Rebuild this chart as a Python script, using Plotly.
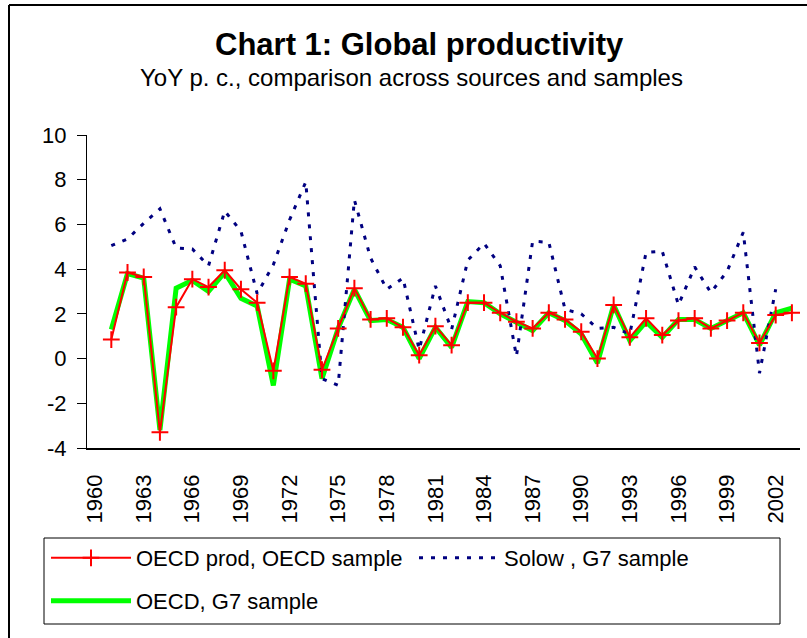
import plotly.graph_objects as go

# ---------------- data ----------------
YEARS = [1960, 1961, 1962, 1963, 1964, 1965, 1966, 1967, 1968, 1969,
         1970, 1971, 1972, 1973, 1974, 1975, 1976, 1977, 1978, 1979,
         1980, 1981, 1982, 1983, 1984, 1985, 1986, 1987, 1988, 1989,
         1990, 1991, 1992, 1993, 1994, 1995, 1996, 1997, 1998, 1999,
         2000, 2001, 2002, 2003]

OECD_PROD_OECD_SAMPLE = [None, 0.85, 3.85, 3.65, -3.3, 2.3, 3.55, 3.2, 3.95, 3.1,
                         2.5, -0.55, 3.65, 3.35, -0.5, 1.35, 3.15, 1.75, 1.8, 1.4,
                         0.15, 1.45, 0.6, 2.5, 2.5, 2.05, 1.65, 1.35, 2.05, 1.75,
                         1.2, 0.0, 2.4, 0.95, 1.8, 1.05, 1.7, 1.8, 1.35, 1.7,
                         2.05, 0.7, 1.95, 2.05]

SOLOW_G7_SAMPLE = [None, 5.05, 5.35, 6.05, 6.7, 4.95, 4.9, 4.15, 6.6, 5.7,
                   2.9, 4.2, 6.2, 7.9, -0.9, -1.2, 7.1, 4.5, 3.1, 3.6,
                   0.4, 3.25, 1.3, 4.4, 5.15, 4.15, 0.1, 5.25, 5.2, 2.2,
                   2.0, 1.35, 1.4, 1.1, 4.75, 4.8, 2.4, 4.1, 2.95, 3.9,
                   5.65, -0.65, 3.1, None]

OECD_G7_SAMPLE = [None, 1.3, 3.8, 3.6, -3.2, 3.15, 3.5, 3.0, 3.85, 2.7,
                  2.35, -1.2, 3.55, 3.25, -0.9, 1.35, 3.1, 1.7, 1.75, 1.4,
                  0.0, 1.4, 0.5, 2.55, 2.5, 2.0, 1.6, 1.25, 2.05, 1.7,
                  1.1, -0.2, 2.4, 0.8, 1.65, 0.95, 1.75, 1.75, 1.35, 1.7,
                  2.05, 0.6, 2.05, 2.25]

X_TICK_LABELS = [1960, 1963, 1966, 1969, 1972, 1975, 1978, 1981, 1984, 1987,
                 1990, 1993, 1996, 1999, 2002]
Y_TICKS = [-4, -2, 0, 2, 4, 6, 8, 10]
Y_TICK_TEXT = ["-4", "-2", "0", "2", "4", "6", "8", "10"]

TITLE = "Chart 1: Global productivity"
SUBTITLE = "YoY p. c., comparison across sources and samples"

# ---------------- figure ----------------
FONT = "Liberation Sans, Arial, sans-serif"
W, H = 807, 638
L, R, T, B = 87, 7, 135, 190
PW, PH = W - L - R, H - T - B


def px_x(p):
    return (p - L) / PW


def px_y(p):
    return (H - B - p) / PH


fig = go.Figure()

fig.add_trace(go.Scatter(
    x=YEARS, y=OECD_G7_SAMPLE, name="OECD, G7 sample", mode="lines",
    line=dict(color="#00FF00", width=5), legend="legend2",
))
fig.add_trace(go.Scatter(
    x=YEARS, y=SOLOW_G7_SAMPLE, name="Solow , G7 sample", mode="lines",
    line=dict(color="#000080", width=3, dash="4px,8px"), legendrank=2,
))
fig.add_trace(go.Scatter(
    x=YEARS, y=OECD_PROD_OECD_SAMPLE, name="OECD prod, OECD sample",
    mode="lines+markers",
    line=dict(color="#FF0000", width=2),
    marker=dict(symbol="cross-thin", size=12, line=dict(color="#FF0000", width=2)),
    legendrank=1,
))

rng = [YEARS[0] - 0.5, YEARS[-1] + 0.5]
minor_ticks = [YEARS[0] - 0.5 + 2 * i for i in range(len(YEARS) // 2 + 1)]

fig.update_layout(
    width=W, height=H,
    margin=dict(l=L, r=R, t=T, b=B, autoexpand=False),
    paper_bgcolor="white", plot_bgcolor="white",
    font=dict(family=FONT, color="black", size=22),
    showlegend=True,
    xaxis=dict(
        range=rng, tickmode="array", tickvals=X_TICK_LABELS,
        ticktext=[str(v) for v in X_TICK_LABELS], tickangle=-90,
        ticks="", ticklabelstandoff=16, automargin=False,
        showline=True, linecolor="black", linewidth=1.5,
        showgrid=False, zeroline=False,
        tickfont=dict(size=22, family=FONT),
    ),
    xaxis2=dict(
        range=rng, overlaying="x", anchor="y", side="bottom",
        tickmode="array", tickvals=minor_ticks, ticks="outside", ticklen=6,
        tickcolor="black", showticklabels=False, showline=False,
        showgrid=False, zeroline=False, automargin=False,
    ),
    yaxis=dict(
        range=[-4, 10], tickmode="array", tickvals=Y_TICKS, ticktext=Y_TICK_TEXT,
        ticks="outside", ticklen=9, tickcolor="black", ticklabelstandoff=6,
        showline=True, linecolor="black", linewidth=1, automargin=False,
        showgrid=False, zeroline=False,
        tickfont=dict(size=22, family=FONT),
    ),
    legend=dict(
        orientation="h", x=px_x(46), xanchor="left", y=px_y(558), yanchor="middle",
        bgcolor="rgba(0,0,0,0)", borderwidth=0, itemwidth=80, entrywidth=273,
        font=dict(size=22, family=FONT), traceorder="normal",
    ),
    legend2=dict(
        orientation="h", x=px_x(46), xanchor="left", y=px_y(601), yanchor="middle",
        bgcolor="rgba(0,0,0,0)", borderwidth=0, itemwidth=80,
        font=dict(size=22, family=FONT),
    ),
    annotations=[
        dict(text="<b>" + TITLE + "</b>", x=px_x(419.5), y=px_y(44), xref="paper", yref="paper",
             showarrow=False, xanchor="center", yanchor="middle",
             font=dict(size=31, family=FONT, color="black")),
        dict(text=SUBTITLE, x=px_x(411), y=px_y(78), xref="paper", yref="paper",
             showarrow=False, xanchor="center", yanchor="middle",
             font=dict(size=24, family=FONT, color="black")),
    ],
    shapes=[
        # chart frame (left and top edges)
        dict(type="line", xref="paper", yref="paper", x0=px_x(9), x1=px_x(812),
             y0=px_y(5), y1=px_y(5), line=dict(color="black", width=2)),
        dict(type="line", xref="paper", yref="paper", x0=px_x(9), x1=px_x(9),
             y0=px_y(5), y1=px_y(645), line=dict(color="black", width=2)),
        # legend box
        dict(type="rect", xref="paper", yref="paper", x0=px_x(44), x1=px_x(780),
             y0=px_y(624), y1=px_y(538), line=dict(color="black", width=1)),
    ],
)

fig.write_html("out.html", config={"displayModeBar": False},
               post_script="document.body.style.margin='0';")
